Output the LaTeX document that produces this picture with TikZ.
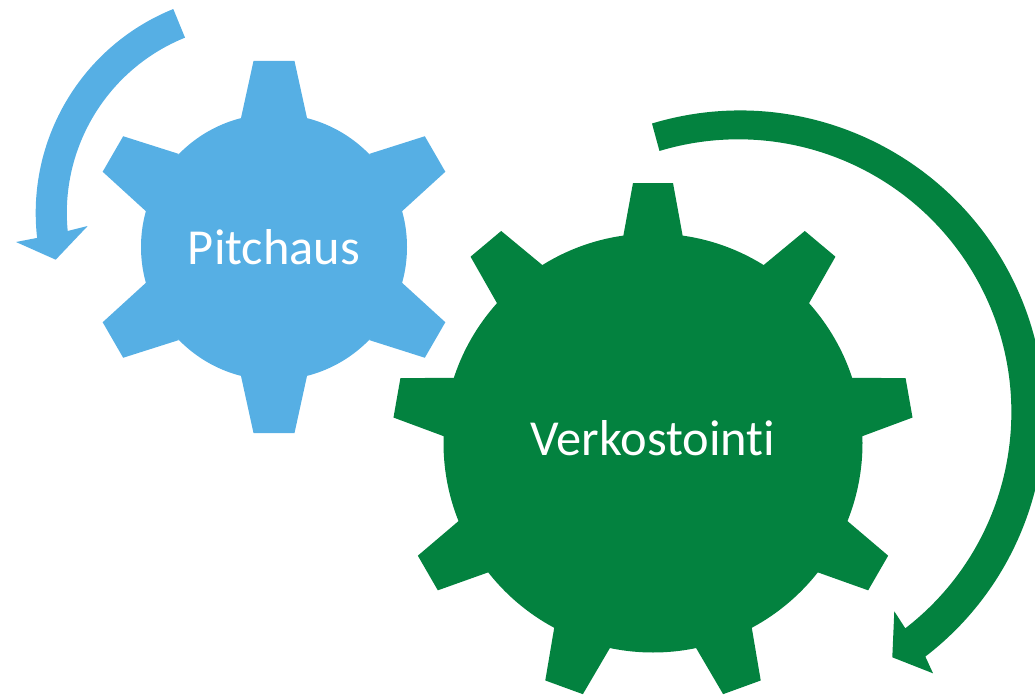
\documentclass[tikz,border=0pt]{standalone}
\usepackage{fontspec}
\setmainfont[Ligatures=NoCommon]{Carlito}
\definecolor{pitchblue}{HTML}{56AFE4}
\definecolor{verkgreen}{HTML}{03823F}
\tikzset{
  gearlabel/.style={text=white,inner sep=0pt,anchor=base,font=\fontsize{28.7}{32}\selectfont}
}

\begin{document}
\begin{tikzpicture}[x=0.02cm,y=0.02cm]
    \clip (0,0) rectangle (1035,-696);

    %==================== Small gear ====================
    \begin{scope}[shift={(274,-247)},fill=pitchblue]
      \fill circle (133);
      % Six teeth
      \foreach \a in {90,30,-30,-90,-150,150} {
        \fill[rotate=\a-90] (-33,129) -- (-20.5,186) -- (20.5,186) -- (33,129) -- cycle;
      }
    \end{scope}

    %==================== Big gear ====================
    \begin{scope}[shift={(653,-443)},fill=verkgreen]
      \fill circle (209.5);
      % Nine teeth
      \foreach \a in {90,50,10,-30,-70,-110,-150,170,130} {
        \fill[rotate=\a-90] (-29.7,207) -- (-20,260) -- (20,260) -- (29.7,207) -- cycle;
      }
    \end{scope}

    %==================== Rotation arrows ====================
    \fill[pitchblue] (255.7,-213) ++(112:220) arc[start angle=112,end angle=186.5,radius=220]
      -- (16,-242) -- (55.7,-259.7) -- (87.7,-226) -- (67.7,-231)
      arc[start angle=185.5,end angle=112,radius=189] -- cycle;

    \fill[verkgreen] (740,-415) ++(106.8:304.5) arc[start angle=106.8,end angle=-52.5,radius=304.5]
      -- (933,-673.3) -- (892.3,-657.3) -- (894.3,-611.3) -- (905.3,-628.3)
      arc[start angle=-52.3,end angle=106.8,radius=273] -- cycle;

    %==================== Labels ====================
    \node[gearlabel] (pitchaus) at (274,-264) {Pitchaus};
    \node[gearlabel] (verkostointi) at (653,-455.5) {Verkostointi};
\end{tikzpicture}
\end{document}
